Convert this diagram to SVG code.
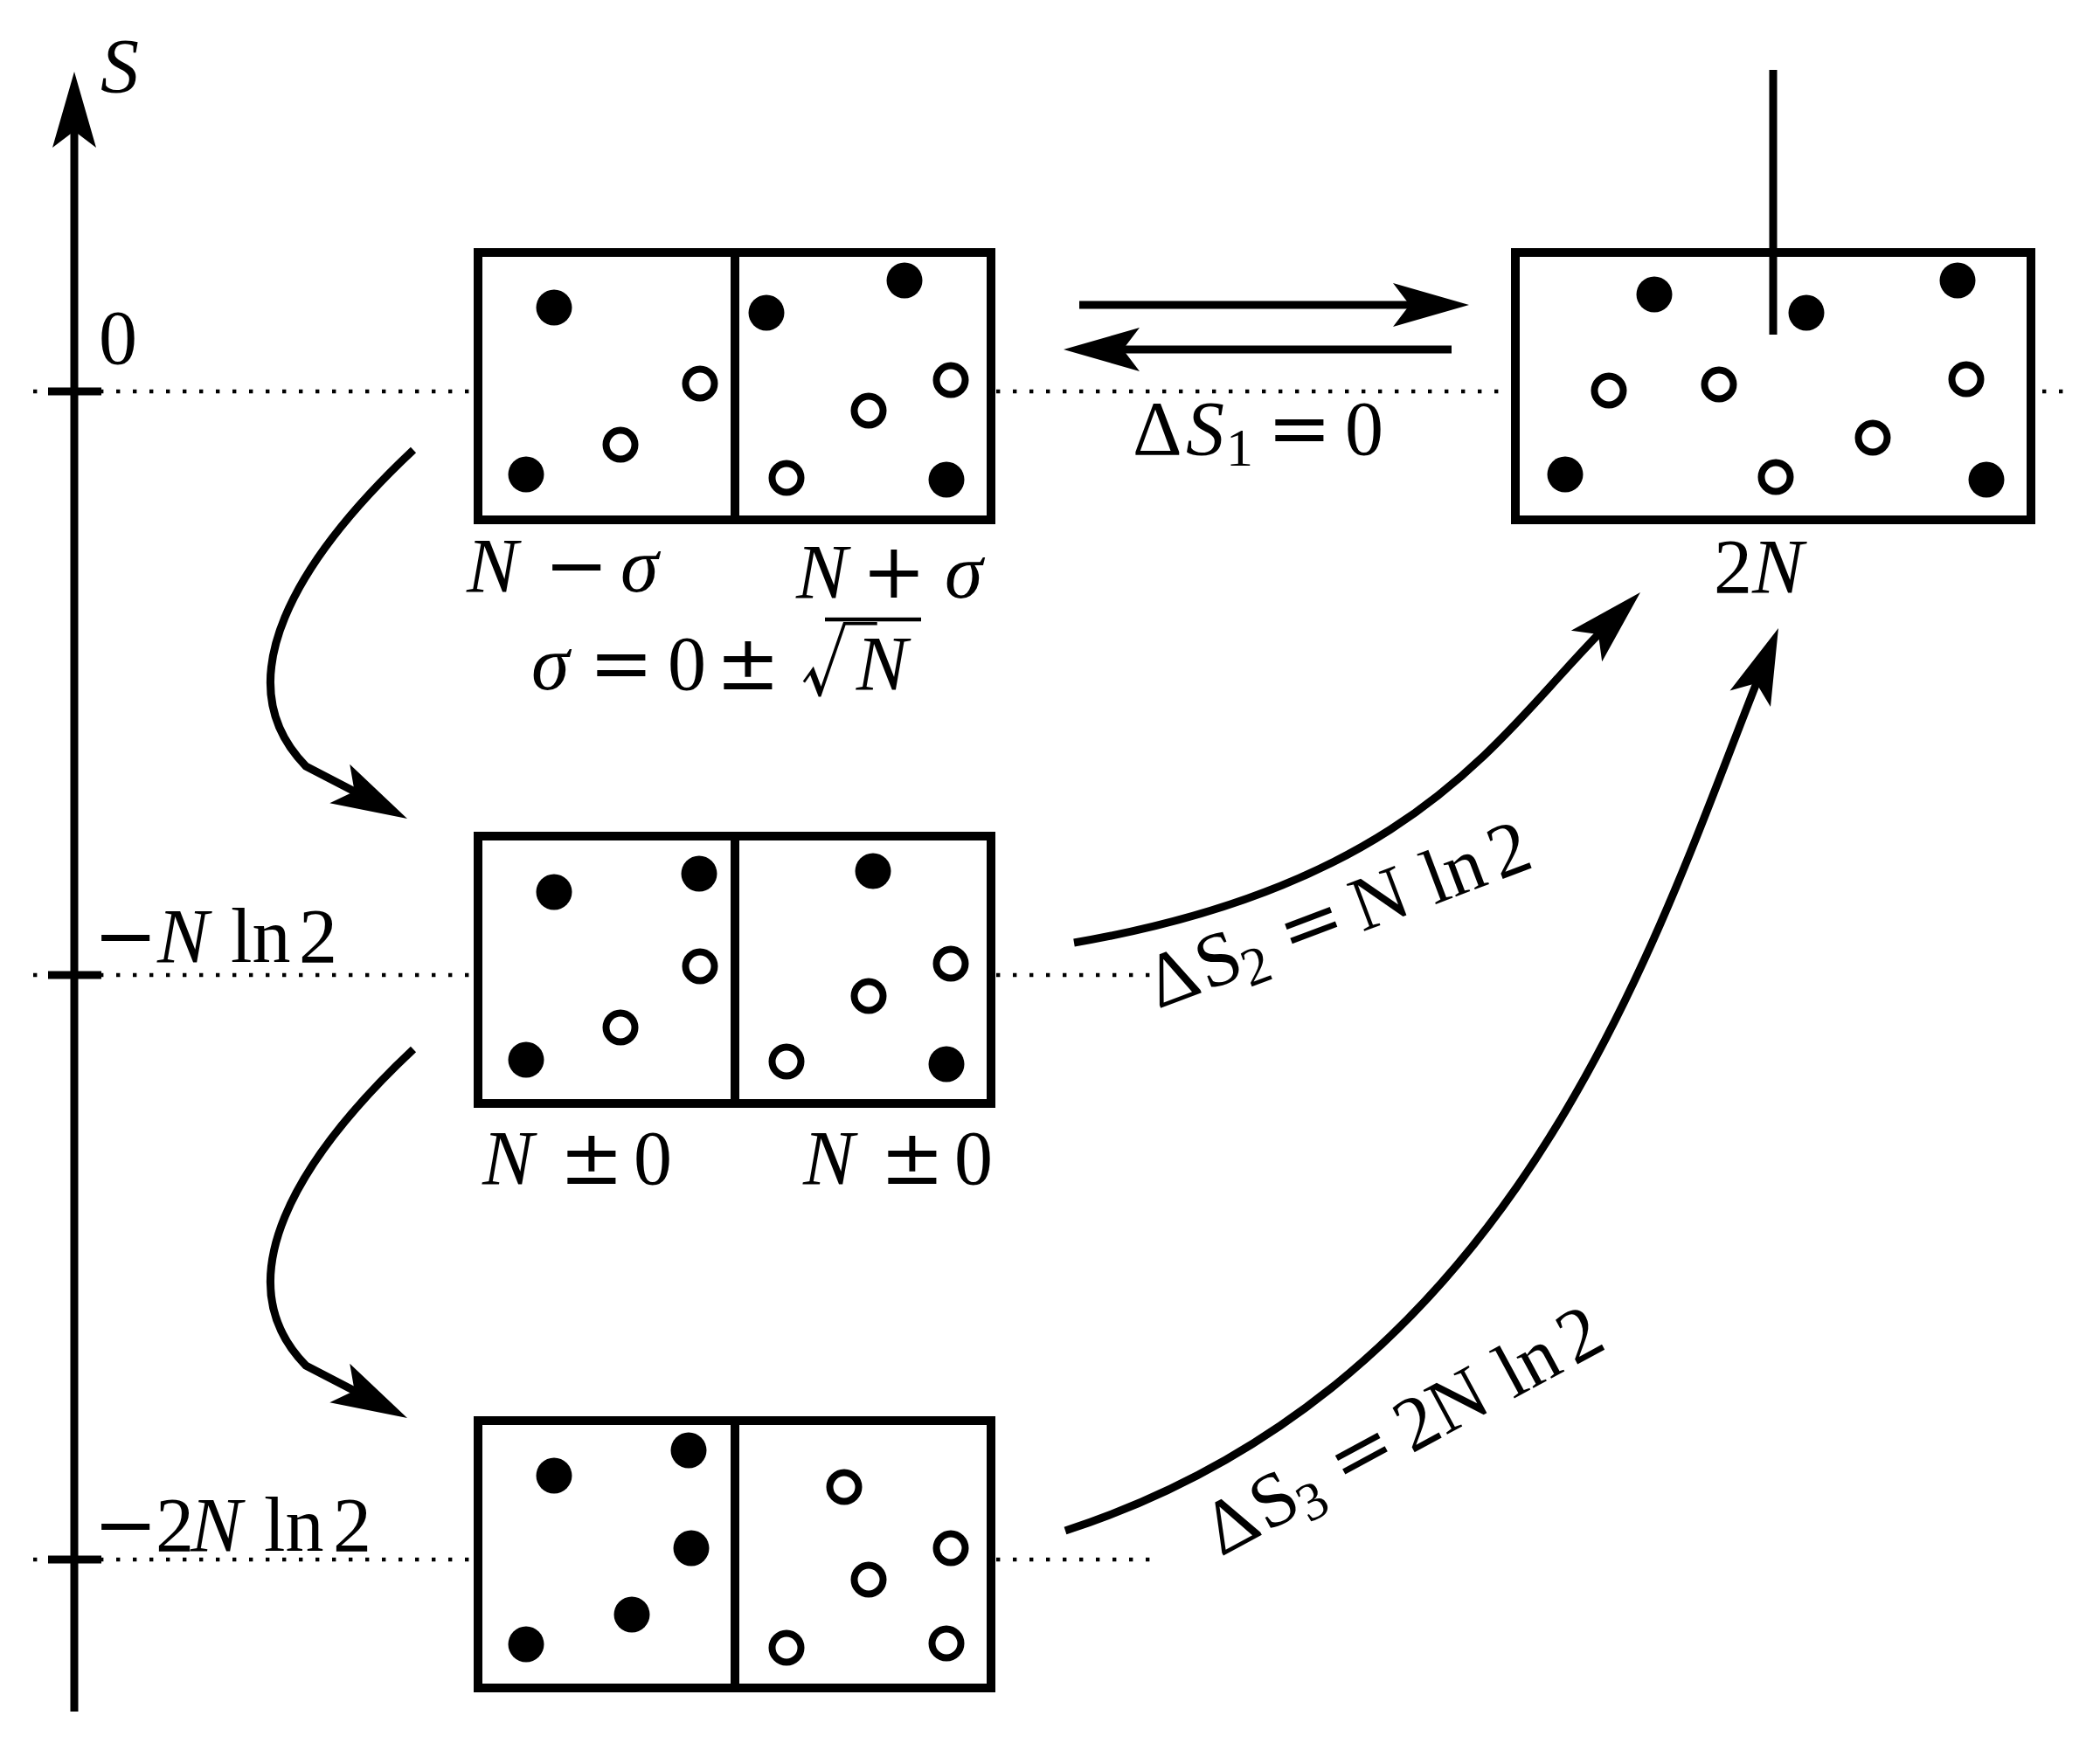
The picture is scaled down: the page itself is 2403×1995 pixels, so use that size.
<svg xmlns="http://www.w3.org/2000/svg" width="2403" height="1995" viewBox="0 0 2403 1995">
<defs>
<style>
.ln{fill:none;stroke:#000;stroke-width:9}
.box{fill:#fff;stroke:#000;stroke-width:10}
.dv{stroke:#000;stroke-width:10}
.f{fill:#000}
.o{fill:#fff;stroke:#000;stroke-width:8}
.dt{fill:none;stroke:#000;stroke-width:4.4;stroke-dasharray:4.4 14.6}
.tk{stroke:#000;stroke-width:9}
text{font-family:"Liberation Serif","DejaVu Serif",serif;font-size:88px;fill:#000}
.i{font-style:italic}
.s{font-size:62px}
.op{font-family:"DejaVu Serif","Liberation Serif",serif}
.rad{font-family:"Noto Sans CJK JP","DejaVu Serif",sans-serif;letter-spacing:-24px}
</style>
<marker id="ah" markerUnits="userSpaceOnUse" orient="auto" overflow="visible" markerWidth="100" markerHeight="60" refX="0" refY="0">
<path d="M58,0 L-29,-25 L-10,0 L-29,25 Z" fill="#000"/>
</marker>
</defs>
<rect width="2403" height="1995" fill="#fff"/>

<g id="levels">
<line class="dt" x1="38" y1="448" x2="2372" y2="448"/>
<line class="dt" x1="38" y1="1116" x2="1328" y2="1116"/>
<line class="dt" x1="38" y1="1785" x2="1324" y2="1785"/>
</g>

<g id="axis">
<line class="ln" x1="85" y1="1959" x2="85" y2="140" marker-end="url(#ah)"/>
<line class="tk" x1="55" y1="448" x2="116" y2="448"/>
<line class="tk" x1="55" y1="1116" x2="116" y2="1116"/>
<line class="tk" x1="55" y1="1785" x2="116" y2="1785"/>
<text class="i" x="115" y="105">S</text>
<text x="113" y="416">0</text>
<text y="1101"><tspan class="op" x="107">−</tspan><tspan class="i" x="180">N</tspan><tspan x="264">ln</tspan><tspan x="342">2</tspan></text>
<text y="1775"><tspan class="op" x="107">−</tspan><tspan x="178">2</tspan><tspan class="i" x="218">N</tspan><tspan x="302">ln</tspan><tspan x="381">2</tspan></text>
</g>

<g id="state-fluct">
<rect class="box" x="547" y="289" width="587" height="306"/>
<line class="dv" x1="841" y1="289" x2="841" y2="595"/>
<circle class="f" cx="634" cy="352" r="20.5"/>
<circle class="f" cx="602" cy="543" r="20.5"/>
<circle class="f" cx="877" cy="358" r="20.5"/>
<circle class="f" cx="1035" cy="321" r="20.5"/>
<circle class="f" cx="1083" cy="549" r="20.5"/>
<circle class="o" cx="801" cy="439" r="16.5"/>
<circle class="o" cx="710" cy="509" r="16.5"/>
<circle class="o" cx="1088" cy="435" r="16.5"/>
<circle class="o" cx="994" cy="470" r="16.5"/>
<circle class="o" cx="900" cy="547" r="16.5"/>
<text y="677"><tspan class="i" x="534">N</tspan><tspan class="op" x="623">−</tspan><tspan class="i" x="710">σ</tspan></text>
<text y="684"><tspan class="i" x="911">N</tspan><tspan class="op" x="986">+</tspan><tspan class="i" x="1081">σ</tspan></text>
<text y="789"><tspan class="i" x="608">σ</tspan><tspan class="op" x="674">=</tspan><tspan x="764">0</tspan><tspan class="op" x="819">±</tspan><tspan class="rad" dx="23">√</tspan><tspan class="i">N</tspan></text>
<line x1="944" y1="709" x2="1054" y2="709" stroke="#000" stroke-width="4.5"/>
</g>

<g id="state-equal">
<rect class="box" x="547" y="957" width="587" height="306"/>
<line class="dv" x1="841" y1="957" x2="841" y2="1263"/>
<circle class="f" cx="634" cy="1021" r="20.5"/>
<circle class="f" cx="800" cy="1000" r="20.5"/>
<circle class="f" cx="999" cy="997" r="20.5"/>
<circle class="f" cx="602" cy="1213" r="20.5"/>
<circle class="f" cx="1083" cy="1218" r="20.5"/>
<circle class="o" cx="801" cy="1106" r="16.5"/>
<circle class="o" cx="710" cy="1176" r="16.5"/>
<circle class="o" cx="994" cy="1140" r="16.5"/>
<circle class="o" cx="1088" cy="1103" r="16.5"/>
<circle class="o" cx="900" cy="1215" r="16.5"/>
<text y="1355"><tspan class="i" x="552">N</tspan><tspan class="op" x="640">±</tspan><tspan x="725">0</tspan></text>
<text y="1355"><tspan class="i" x="919">N</tspan><tspan class="op" x="1007">±</tspan><tspan x="1092">0</tspan></text>
</g>

<g id="state-separated">
<rect class="box" x="547" y="1626" width="587" height="306"/>
<line class="dv" x1="841" y1="1626" x2="841" y2="1932"/>
<circle class="f" cx="634" cy="1689" r="20.5"/>
<circle class="f" cx="788" cy="1660" r="20.5"/>
<circle class="f" cx="791" cy="1772" r="20.5"/>
<circle class="f" cx="723" cy="1848" r="20.5"/>
<circle class="f" cx="602" cy="1882" r="20.5"/>
<circle class="o" cx="966" cy="1702" r="16.5"/>
<circle class="o" cx="1088" cy="1772" r="16.5"/>
<circle class="o" cx="994" cy="1808" r="16.5"/>
<circle class="o" cx="900" cy="1886" r="16.5"/>
<circle class="o" cx="1083" cy="1881" r="16.5"/>
</g>

<g id="state-mixed">
<rect class="box" x="1734" y="289" width="590" height="306"/>
<line class="dv" x1="2029" y1="80" x2="2029" y2="383" style="stroke-width:9"/>
<circle class="f" cx="1893" cy="337" r="20.5"/>
<circle class="f" cx="2067" cy="358" r="20.5"/>
<circle class="f" cx="2240" cy="321" r="20.5"/>
<circle class="f" cx="1791" cy="543" r="20.5"/>
<circle class="f" cx="2273" cy="549" r="20.5"/>
<circle class="o" cx="1841" cy="447" r="16.5"/>
<circle class="o" cx="1967" cy="440" r="16.5"/>
<circle class="o" cx="2250" cy="434" r="16.5"/>
<circle class="o" cx="2143" cy="501" r="16.5"/>
<circle class="o" cx="2032" cy="546" r="16.5"/>
<text x="1961" y="678">2<tspan class="i">N</tspan></text>
</g>

<g id="connectors">
<line class="ln" x1="1235" y1="349" x2="1623" y2="349" marker-end="url(#ah)"/>
<line class="ln" x1="1661" y1="400" x2="1275" y2="400" marker-end="url(#ah)"/>
<path class="ln" d="M473,515 C340,640 255,780 350,877 L414.5,910.4" marker-end="url(#ah)"/>
<path class="ln" d="M473,1201 C340,1326 255,1466 350,1563 L414.5,1596.4" marker-end="url(#ah)"/>
<path class="ln" d="M1229,1079 C1623,1011 1716,839 1836,719" marker-end="url(#ah)"/>
<path class="ln" d="M1219,1752 C1742,1582 1895,1070 2013.5,772.8" marker-end="url(#ah)"/>
<text y="520"><tspan x="1296">Δ</tspan><tspan class="i" x="1357">S</tspan><tspan class="s" x="1403" dy="13">1</tspan><tspan class="op" x="1450" dy="-13">=</tspan><tspan x="1539">0</tspan></text>
<text transform="translate(1325,1155) rotate(-20.7)"><tspan x="0">Δ</tspan><tspan x="60">S</tspan><tspan class="s" x="107" dy="14">2</tspan><tspan class="op" x="161" dy="-14">=</tspan><tspan x="250">N</tspan><tspan x="338">ln</tspan><tspan x="418">2</tspan></text>
<text transform="translate(1397,1782) rotate(-28.4)"><tspan x="0">Δ</tspan><tspan x="60">S</tspan><tspan class="s" x="107" dy="14">3</tspan><tspan class="op" x="161" dy="-14">=</tspan><tspan x="248">2</tspan><tspan x="292">N</tspan><tspan x="380">ln</tspan><tspan x="460">2</tspan></text>
</g>
</svg>
